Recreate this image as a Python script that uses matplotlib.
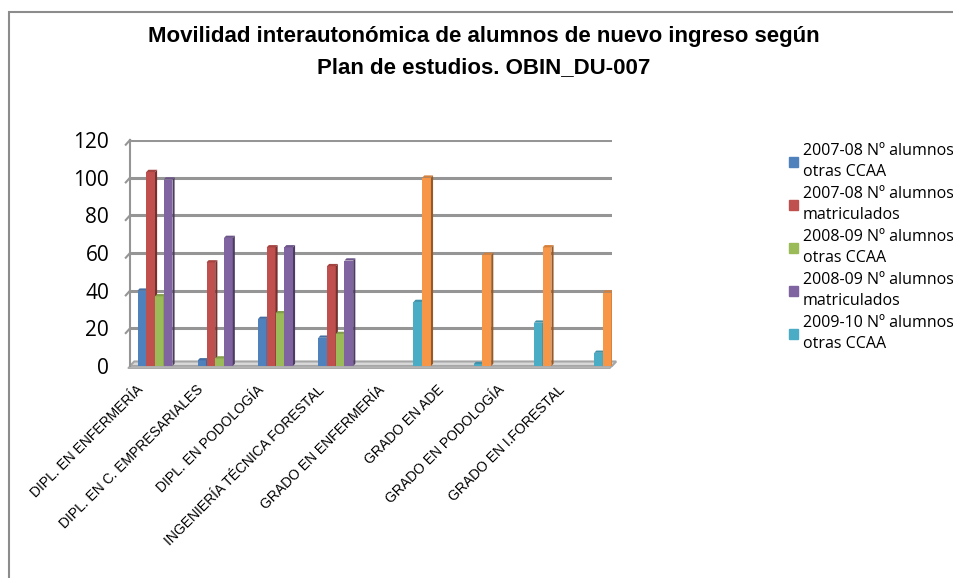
import matplotlib.pyplot as plt
import matplotlib.colors as mcolors
import matplotlib.transforms as mtransforms
from matplotlib.patches import Polygon, Rectangle
import numpy as np

categories = ['DIPL. EN ENFERMERÍA', 'DIPL. EN C. EMPRESARIALES', 'DIPL. EN PODOLOGÍA',
              'INGENIERÍA TÉCNICA FORESTAL', 'GRADO EN ENFERMERÍA', 'GRADO EN ADE',
              'GRADO EN PODOLOGÍA', 'GRADO EN I.FORESTAL']
series_names = ['2007-08 Nº alumnos\notras CCAA', '2007-08 Nº alumnos\nmatriculados',
                '2008-09 Nº alumnos\notras CCAA', '2008-09 Nº alumnos\nmatriculados',
                '2009-10 Nº alumnos\notras CCAA', '2009-10 Nº alumnos\nmatriculados']
otras_0708 = [40, 3, 25, 15, 0, 0, 0, 0]
matric_0708 = [103, 55, 63, 53, 0, 0, 0, 0]
otras_0809 = [37, 4, 28, 17, 0, 0, 0, 0]
matric_0809 = [99, 68, 63, 56, 0, 0, 0, 0]
otras_0910 = [0, 0, 0, 0, 34, 1, 23, 7]
matric_0910 = [0, 0, 0, 0, 100, 59, 63, 39]
yticks = [0, 20, 40, 60, 80, 100, 120]

series = [otras_0708, matric_0708, otras_0809, matric_0809, otras_0910, matric_0910]
colors = ['#4F81BD', '#C0504D', '#9BBB59', '#8064A2', '#4BACC6', '#F79646']

fig = plt.figure(figsize=(9.54, 5.78), dpi=100)
ax = fig.add_axes([130/954, 1-366/578, 482/954, 226/578])

x = np.arange(len(categories))
w = 0.145
dx, dy = 0.035, 1.2  # pseudo 3d depth

# floor
ax.add_patch(Polygon([(-0.5, 0), (7.5, 0), (7.5 + 2*dx, 2*dy), (-0.5 + 2*dx, 2*dy)],
                     closed=True, fc='#d9d9d9', ec='#a6a6a6', lw=1.5, zorder=1, clip_on=False))
ax.add_patch(Polygon([(-0.5, 0), (7.5, 0), (7.5 - dx, -dy), (-0.5 - dx, -dy)],
                     closed=True, fc='#bfbfbf', ec='#a6a6a6', lw=1, zorder=1, clip_on=False))

for y in yticks[1:]:
    ax.plot([-0.5, 7.5], [y, y], color='#959595', lw=2.2, zorder=1, solid_capstyle='butt')
    ax.plot([-0.5, -0.5 - 0.07], [y, y - 2.5], color='#959595', lw=1.5, zorder=1, clip_on=False)
ax.plot([-0.5, -0.5], [0, 120], color='#959595', lw=1.5, zorder=1, clip_on=False)

for k, (vals, col) in enumerate(zip(series, colors)):
    xs = x + (k - 2.5) * w + 0.06
    dark = np.array(mcolors.to_rgb(col)) * 0.6
    light = np.array(mcolors.to_rgb(col)) * 0.85
    ax.bar(xs, vals, width=w, color=col, zorder=3, linewidth=0)
    for xi, v in zip(xs, vals):
        if v <= 0:
            continue
        r = xi + w/2
        ax.add_patch(Polygon([(r, 0), (r + dx, dy), (r + dx, v + dy), (r, v)],
                             closed=True, fc=dark, lw=0, zorder=3))
        ax.add_patch(Polygon([(r - w, v), (r, v), (r + dx, v + dy), (r - w + dx, v + dy)],
                             closed=True, fc=light, lw=0, zorder=3))

ax.set_xlim(-0.5, 7.5)
ax.set_ylim(0, 120)
ax.set_yticks(yticks)
ax.set_yticklabels([str(t) for t in yticks], fontsize=15, family='Open Sans')
ax.tick_params(axis='y', length=0, pad=15)
ax.set_xticks(x)
ax.set_xticklabels(categories, rotation=45, ha='right', rotation_mode='anchor',
                   fontsize=10, family='Liberation Sans')
ax.tick_params(axis='x', length=0, pad=12)
shift = mtransforms.ScaledTranslation(-24/100, 0, fig.dpi_scale_trans)
for lab in ax.get_xticklabels():
    lab.set_transform(lab.get_transform() + shift)
for s in ax.spines.values():
    s.set_visible(False)

fig.text(0.507, 0.955, 'Movilidad interautonómica de alumnos de nuevo ingreso según\nPlan de estudios. OBIN_DU-007',
         ha='center', va='top', fontsize=16, fontweight='bold', family='Liberation Sans',
         linespacing=1.6)

handles = [Rectangle((0, 0), 1, 1, color=c) for c in colors[:5]]
leg = fig.legend(handles, series_names[:5], loc='upper left', bbox_to_anchor=(781/954, 1-135/578),
                 frameon=False, prop={'family': 'Open Sans', 'size': 11.5},
                 handlelength=0.55, handleheight=0.55, handletextpad=0.3, labelspacing=0.35,
                 borderpad=0)
for t in leg.get_texts():
    t.set_linespacing(1.45)

fig.add_artist(Rectangle((9/954, -0.05), 1.1, 1 - 12/578 + 0.05, transform=fig.transFigure,
                         fill=False, ec='#8c8c8c', lw=1.5))

fig.savefig('out.png', dpi=100)
